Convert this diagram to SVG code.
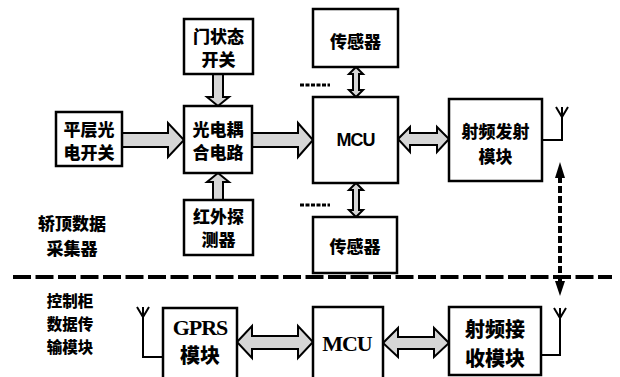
<svg xmlns="http://www.w3.org/2000/svg" width="620" height="377" viewBox="0 0 620 377">
<defs>
<style>
.box{fill:#fff;stroke:#000;stroke-width:2.5}
.arr{fill:#d6d6d6;stroke:#000;stroke-width:2;stroke-linejoin:miter}
.t{font-family:"Noto Sans CJK SC","Liberation Sans",sans-serif;font-weight:900;font-size:17px;text-anchor:middle;dominant-baseline:central;fill:#000}
.tl{font-size:15.5px}
.tb{font-size:20px}
.ms{font-family:"Liberation Sans",sans-serif;font-weight:bold;font-size:18px;text-anchor:middle;dominant-baseline:central;letter-spacing:-1px}
.mr{font-family:"Liberation Serif",serif;font-weight:bold;font-size:22px;text-anchor:middle;dominant-baseline:central;letter-spacing:-1px}
.ant{fill:none;stroke:#000;stroke-width:2}
.dot{fill:none;stroke:#000;stroke-width:3;stroke-dasharray:4 1.5}
</style>
</defs>
<rect width="620" height="377" fill="#fff"/>

<g id="connectors">
  <path class="arr" d="M213,74 H223 V97 H229 L218,106 L207,97 H213 Z"/>
  <path class="arr" d="M213,200 H223 V182 H229 L218,173 L207,182 H213 Z"/>
  <path class="arr" d="M122,133 V147 H168 V157 L184,140 L168,123 V133 Z"/>
  <path class="arr" d="M251,133 V147 H298 V157 L313,140 L298,123 V133 Z"/>
  <path class="arr" d="M356,67 L363,74 H359 V90 H363 L356,97 L349,90 H353 V74 H349 Z"/>
  <path class="arr" d="M356,183 L363,190 H359 V210 H363 L356,217 L349,210 H353 V190 H349 Z"/>
  <path class="arr" d="M398,139 L410,127 V133 H437 V127 L449,139 L437,152 V145 H410 V152 Z"/>
  <path class="arr" d="M237,342 L252,326 V336 H298 V326 L313,342 L298,358 V349 H252 V358 Z"/>
  <path class="arr" d="M383,343 L398,328 V337 H434 V328 L449,343 L434,357 V349 H398 V357 Z"/>
  <line x1="560" y1="176" x2="560" y2="283" stroke="#000" stroke-width="4" stroke-dasharray="7 3"/>
  <path d="M560,162 L565,178 H555 Z" fill="#000"/>
  <path d="M560,296 L565,281 H555 Z" fill="#000"/>
  <path class="ant" d="M556,107 L562,117 L568,107 M562,107 V140 H542"/>
  <path class="ant" d="M554,308 L560,318 L566,308 M560,308 V355 H542"/>
  <path class="ant" d="M137,307 L143,317 L149,307 M143,307 V357 H163"/>
  <line class="dot" x1="300" y1="85" x2="330" y2="85"/>
  <line class="dot" x1="300" y1="205" x2="330" y2="205"/>
  <line x1="13" y1="277" x2="612" y2="277" stroke="#000" stroke-width="4" stroke-dasharray="18 4.5"/>
</g>

<g id="door-switch">
  <rect class="box" x="184" y="19" width="69" height="55"/>
  <text class="t" x="218.5" y="35">门状态</text>
  <text class="t" x="218.5" y="58">开关</text>
</g>
<g id="level-switch">
  <rect class="box" x="56" y="112" width="66" height="54"/>
  <text class="t" x="89" y="128">平层光</text>
  <text class="t" x="89" y="151">电开关</text>
</g>
<g id="optocoupler">
  <rect class="box" x="184" y="106" width="68" height="67"/>
  <text class="t" x="218" y="128">光电耦</text>
  <text class="t" x="218" y="151">合电路</text>
</g>
<g id="ir-detector">
  <rect class="box" x="184" y="200" width="69" height="55"/>
  <text class="t" x="218.5" y="215">红外探</text>
  <text class="t" x="218.5" y="238">测器</text>
</g>
<g id="sensor-top">
  <rect class="box" x="313" y="9" width="85" height="58"/>
  <text class="t" x="355.5" y="40">传感器</text>
</g>
<g id="mcu-top">
  <rect class="box" x="313" y="97" width="85" height="86"/>
  <text class="ms" x="355.5" y="140">MCU</text>
</g>
<g id="sensor-bottom">
  <rect class="box" x="313" y="217" width="84" height="56"/>
  <text class="t" x="355" y="245">传感器</text>
</g>
<g id="rf-tx">
  <rect class="box" x="449" y="99" width="93" height="82"/>
  <text class="t" x="495.5" y="130">射频发射</text>
  <text class="t" x="495.5" y="155">模块</text>
</g>
<g id="car-top-label">
  <text class="t" x="72" y="222">轿顶数据</text>
  <text class="t" x="72" y="247">采集器</text>
</g>
<g id="cabinet-label">
  <text class="t tl" x="70" y="300">控制柜</text>
  <text class="t tl" x="70" y="323">数据传</text>
  <text class="t tl" x="70" y="346">输模块</text>
</g>
<g id="gprs">
  <rect class="box" x="163" y="308" width="74" height="72"/>
  <text class="mr" x="200" y="327">GPRS</text>
  <text class="t tb" x="200" y="354">模块</text>
</g>
<g id="mcu-bottom">
  <rect class="box" x="313" y="307" width="70" height="73"/>
  <text class="mr" x="347" y="343">MCU</text>
</g>
<g id="rf-rx">
  <rect class="box" x="449" y="307" width="92" height="68"/>
  <text class="t tb" x="495" y="328">射频接</text>
  <text class="t tb" x="495" y="357">收模块</text>
</g>
</svg>
